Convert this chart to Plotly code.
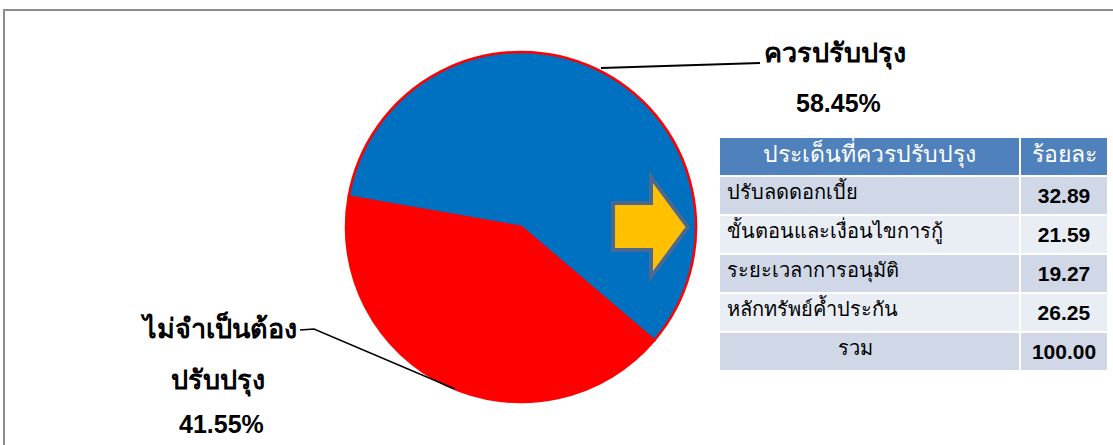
import plotly.graph_objects as go

W, H = 1113, 445

# Pie data
pie_labels = ["ควรปรับปรุง", "ไม่จำเป็นต้องปรับปรุง"]
pie_values = [58.45, 41.55]
pie_colors = ["#0070C0", "#FF0000"]

# Table data
table_header = ["ประเด็นที่ควรปรับปรุง", "ร้อยละ"]
issues = ["ปรับลดดอกเบี้ย", "ขั้นตอนและเงื่อนไขการกู้", "ระยะเวลาการอนุมัติ", "หลักทรัพย์ค้ำประกัน", "รวม"]
percents = ["32.89", "21.59", "19.27", "26.25", "100.00"]

def px(x):
    return x / W

def py(y):
    return 1 - y / H

fig = go.Figure()

fig.add_trace(go.Pie(
    labels=pie_labels, values=pie_values, sort=False,
    direction="clockwise", rotation=-80,
    marker=dict(colors=pie_colors, line=dict(color="#FF0000", width=2.5)),
    textinfo="none", hoverinfo="label+percent", showlegend=False,
    domain=dict(x=[px(346), px(696)], y=[py(403), py(51)]),
))

row_fill = ["#D0D8E8", "#E9EDF4", "#D0D8E8", "#E9EDF4", "#D0D8E8"]
issue_cells = issues[:-1] + ["\u00a0" * 20 + issues[-1]]
pct_cells = ["<b>" + s + "</b>" for s in percents]
fig.add_trace(go.Table(
    domain=dict(x=[px(719), px(1108)], y=[py(375), py(137)]),
    columnwidth=[301, 88],
    header=dict(values=table_header, fill_color="#4F81BD",
                line=dict(color="white", width=2),
                align="center", height=39,
                font=dict(color="white", size=23, family="Liberation Sans, Arial, sans-serif")),
    cells=dict(values=[issue_cells, pct_cells],
               fill_color=[row_fill, row_fill],
               line=dict(color="white", width=2),
               align=["left", "center"],
               height=36,
               font=dict(color="black", size=[20, 21], family="Liberation Sans, Arial, sans-serif")),
))

shapes = []
# outer border
shapes.append(dict(type="rect", xref="paper", yref="paper",
                   x0=px(4), x1=px(1200), y0=py(600), y1=py(10),
                   line=dict(color="#8C8C8C", width=2), fillcolor="rgba(0,0,0,0)", layer="above"))
# leader lines
shapes.append(dict(type="line", xref="paper", yref="paper",
                   x0=px(601), y0=py(68), x1=px(760), y1=py(63),
                   line=dict(color="black", width=2)))
shapes.append(dict(type="path", xref="paper", yref="paper",
                   path=f"M {px(300)},{py(330)} L {px(314)},{py(329)} L {px(455)},{py(389)}",
                   line=dict(color="black", width=1.5)))
# arrow
pts = [(613, 203), (651, 203), (651, 177), (688, 227), (651, 277), (651, 250), (613, 250)]
path = "M " + " L ".join(f"{px(x)},{py(y)}" for x, y in pts) + " Z"
shapes.append(dict(type="path", xref="paper", yref="paper", path=path,
                   fillcolor="#FFC000", line=dict(color="#4A6890", width=4)))

ann = []
def label(text, x, y, size, family="DejaVu Sans, sans-serif"):
    ann.append(dict(text=text, x=px(x), y=py(y), xref="paper", yref="paper",
                    showarrow=False, xanchor="center", yanchor="middle",
                    font=dict(size=size, color="black", family=family)))

label("<b>" + pie_labels[0] + "</b>", 835, 53, 27)
label(f"<b>{pie_values[0]:.2f}%</b>", 838, 103, 25, "Liberation Sans, Arial, sans-serif")
label("<b>ไม่จำเป็นต้อง</b>", 218, 327, 27)
label("<b>ปรับปรุง</b>", 218, 380, 27)
label(f"<b>{pie_values[1]:.2f}%</b>", 221, 424, 25, "Liberation Sans, Arial, sans-serif")

fig.update_layout(width=W, height=H, margin=dict(l=0, r=0, t=0, b=0),
                  paper_bgcolor="white", plot_bgcolor="white",
                  shapes=shapes, annotations=ann)

fig.write_html("out.html")
